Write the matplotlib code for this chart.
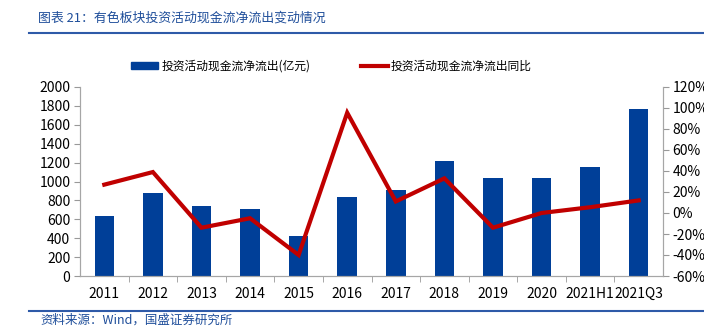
import matplotlib
matplotlib.use("Agg")
import matplotlib.pyplot as plt
from matplotlib.lines import Line2D
from matplotlib.patches import Patch
import matplotlib.ticker as mticker

plt.rcParams['font.family'] = ['Noto Sans CJK SC', 'DejaVu Sans']

categories = ["2011", "2012", "2013", "2014", "2015", "2016", "2017", "2018",
              "2019", "2020", "2021H1", "2021Q3"]
outflow = [630, 875, 745, 710, 425, 835, 915, 1215, 1035, 1035, 1150, 1765]
yoy = [27, 39, -14, -5, -40, 95.5, 11, 33, -14, 0, 5.5, 12]

bar_label = "投资活动现金流净流出(亿元)"
line_label = "投资活动现金流净流出同比"
title = "图表 21：有色板块投资活动现金流净流出变动情况"
source = "资料来源：Wind，国盛证券研究所"

W, H = 704, 334
fig = plt.figure(figsize=(W / 100, H / 100), dpi=100)
ax = fig.add_axes([80 / W, 58 / H, 583 / W, 189 / H])
ax2 = ax.twinx()

x = list(range(len(categories)))
bar_color = "#003F98"
line_color = "#C00000"
ax.bar(x, outflow, width=0.4, color=bar_color, zorder=2)
ax2.plot(x, yoy, color=line_color, lw=3, zorder=3, solid_joinstyle="miter")

ax.set_xlim(-0.5, len(categories) - 0.5)
ax.set_ylim(0, 2000)
ax.set_yticks(range(0, 2001, 200))
ax2.set_ylim(-60, 120)
ax2.set_yticks(range(-60, 121, 20))
ax2.yaxis.set_major_formatter(mticker.FuncFormatter(lambda v, p: f"{int(v)}%"))

ax.set_xticks(x)
ax.set_xticklabels(categories)
ax.set_xticks([i + 0.5 for i in x[:-1]], minor=True)
ax.tick_params(axis='x', which='major', length=0, pad=8, labelsize=10)
ax.tick_params(axis='x', which='minor', length=4, color="#999999", direction='out')
ax.tick_params(axis='y', length=4, color="#999999", labelsize=10, pad=3)
ax2.tick_params(axis='y', length=4, color="#999999", labelsize=10, pad=3)

for a in (ax, ax2):
    a.spines['top'].set_visible(False)
    for s in ('left', 'right', 'bottom'):
        a.spines[s].set_color("#A6A6A6")

handles = [Patch(color=bar_color), Line2D([0], [0], color=line_color, lw=3)]
fig.legend(handles, [bar_label, line_label], loc='center left',
           bbox_to_anchor=(131 / W, 1 - 66 / H), ncol=2, frameon=False,
           fontsize=8.5, handlelength=2.3, handleheight=0.6, columnspacing=4.3,
           handletextpad=0.25, borderpad=0, borderaxespad=0)

title_color = "#1F4E9A"
fig.text(38 / W, 1 - 18 / H, title, fontsize=9.3, color=title_color,
         va='center', ha='left', style='italic')
fig.add_artist(Line2D([29 / W, 1], [1 - 32.5 / H, 1 - 32.5 / H], color="#2E5AA8", lw=1.5))
fig.add_artist(Line2D([29 / W, 1], [1 - 311 / H, 1 - 311 / H], color="#2E5AA8", lw=1.5))
fig.text(40 / W, 1 - 320 / H, source, fontsize=9, color=title_color,
         va='center', ha='left', style='italic')

fig.savefig("out.png", dpi=100, facecolor="white")
